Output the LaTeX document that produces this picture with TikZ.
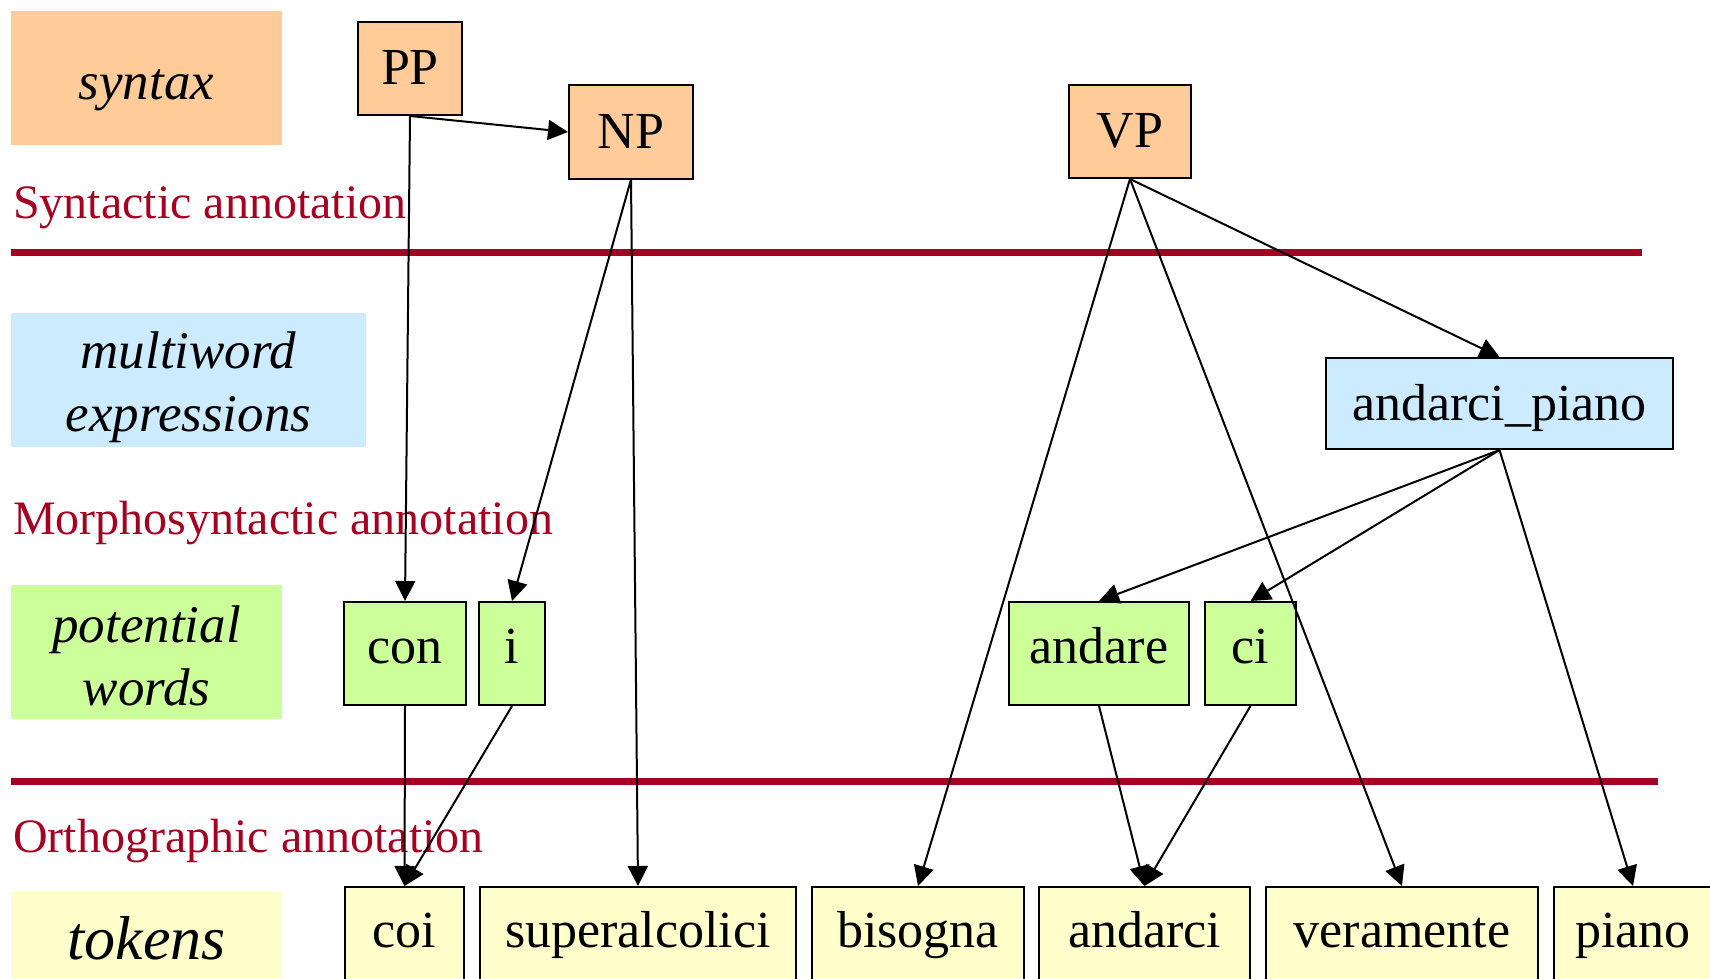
\documentclass[tikz,border=0pt]{standalone}
\usepackage{fontspec}
\setmainfont{Liberation Serif}
\usetikzlibrary{arrows.meta}
\definecolor{synfill}{HTML}{FFCC99}
\definecolor{mwefill}{HTML}{CCEBFF}
\definecolor{wordfill}{HTML}{CCFF99}
\definecolor{tokfill}{HTML}{FFFFCC}
\definecolor{annot}{HTML}{A50021}

\begin{document}
\begin{tikzpicture}[x=1pt, y=-1pt,
  box/.style={draw=black, line width=2pt, inner sep=0pt, text height=40pt, text depth=8pt, font=\fontsize{52}{60}\selectfont},
  synbox/.style={box, fill=synfill, minimum height=93pt},
  mwebox/.style={box, fill=mwefill, minimum height=91pt, text depth=6pt},
  wordbox/.style={box, fill=wordfill, minimum height=103pt, text depth=20pt},
  tokbox/.style={box, fill=tokfill, minimum height=94pt, text depth=13pt},
  level/.style={inner sep=0pt, minimum width=271pt, minimum height=134pt, align=center, font=\fontsize{53}{63}\selectfont\itshape},
  layer/.style={anchor=base west, inner sep=0pt, text=annot, font=\fontsize{48}{56}\selectfont},
  rule/.style={draw=annot, line width=7pt},
  link/.style={draw=black, line width=2pt, -{Triangle[length=20pt,width=20pt]}}
]
\useasboundingbox (0,0) rectangle (1710,979);
\clip (0,0) rectangle (1710,979);

% levels on the left
\node[level, fill=synfill, text height=55pt, text depth=12pt] (syntax) at (146.5,78) {syntax};
\node[level, fill=mwefill, minimum width=355pt, text height=114pt] (mwe) at (188.5,380) {multiword\\expressions};
\node[level, fill=wordfill, text height=108pt] (potwords) at (146.5,652) {potential\\words};
\node[level, fill=tokfill, minimum height=92pt, font=\fontsize{62}{70}\selectfont\itshape] (tokens) at (146.5,938) {tokens};

% annotation layers
\node[layer] (synlayer) at (13,218) {Syntactic annotation};
\node[layer] (morphlayer) at (13,534) {Morphosyntactic annotation};
\node[layer] (ortholayer) at (13,852) {Orthographic annotation};
\draw[rule] (11,252) -- (1642,252);
\draw[rule] (11,781) -- (1658,781);

% nodes
\node[synbox, minimum width=104pt] (PP) at (410,68.5) {PP};
\node[synbox, minimum width=124pt] (NP) at (631,132) {NP};
\node[synbox, minimum width=122pt] (VP) at (1130,131.5) {VP};
\node[mwebox, minimum width=347pt] (andarcipiano) at (1499.5,403.5) {andarci\_piano};
\foreach \wrd/\x/\w in {con/405/122, i/512/66, andare/1099/180, ci/1250.5/91}
  \node[wordbox, minimum width=\w pt] (\wrd) at (\x,653.5) {\wrd};
\foreach \tok/\x/\w in {coi/404.5/119, superalcolici/638/316, bisogna/918/212, andarci/1144.5/211, veramente/1402/272, piano/1633/158}
  \node[tokbox, minimum width=\w pt] (\tok) at (\x,934) {\tok};

% links
\draw[link] (PP.south) -- (NP.west);
\draw[link] (PP.south) -- (con.north);
\draw[link] (NP.south) -- (i.north);
\draw[link] (NP.south) -- (superalcolici.north);
\draw[link] (VP.south) -- (bisogna.north);
\draw[link] (VP.south) -- (veramente.north);
\draw[link] (VP.south) -- (andarcipiano.north);
\draw[link] (andarcipiano.south) -- (andare.north);
\draw[link] (andarcipiano.south) -- (ci.north);
\draw[link] (andarcipiano.south) -- (piano.north);
\draw[link] (con.south) -- (coi.north);
\draw[link] (i.south) -- (coi.north);
\draw[link] (andare.south) -- (andarci.north);
\draw[link] (ci.south) -- (andarci.north);
\end{tikzpicture}
\end{document}
